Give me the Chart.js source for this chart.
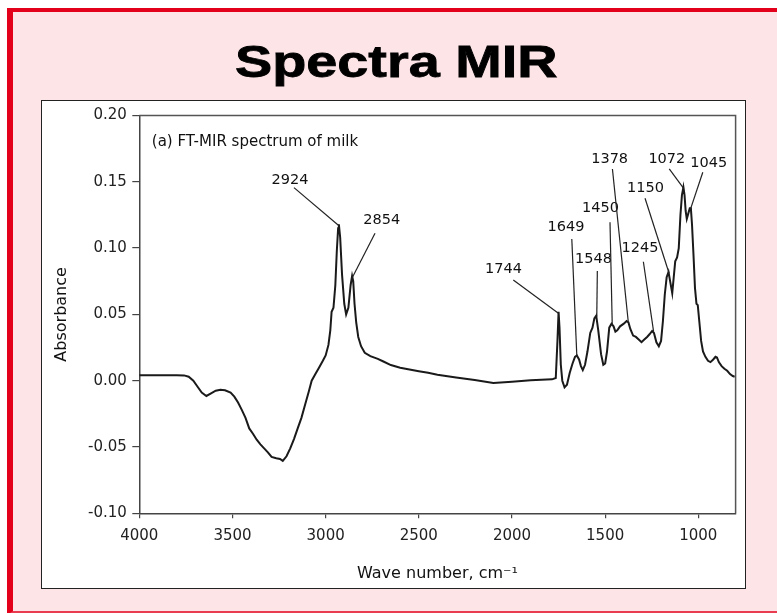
<!DOCTYPE html>
<html>
<head>
<meta charset="utf-8">
<script src="https://cdn.jsdelivr.net/npm/chart.js@4"></script>
<style>
    body { margin: 0; background: #fff; width: 777px; height: 613px; overflow: hidden; position: relative; }
    #frame {
        position: absolute; left: 7px; top: 8px; width: 800px; height: 607px; box-sizing: border-box;
        background: #fce4e7; border-left: 6px solid #e2001a; border-top: 4px solid #e2001a; border-bottom: 4px solid #ea3c50;
    }
    #title {
        position: absolute; left: 235px; top: 39px; white-space: nowrap;
        font: bold 45px "Liberation Sans", Arial, sans-serif; line-height: 45px; color: #000;
        transform: scaleX(1.24); transform-origin: 0 0; -webkit-text-stroke: 0.8px #000;
    }
    #box {
        position: absolute; left: 41px; top: 100px; width: 705px; height: 489px; box-sizing: border-box;
        border: 1px solid #222; background: #fff;
    }
    canvas { display: block; }
</style>
</head>
<body>
<div id="frame"></div>
<div id="title">Spectra MIR</div>
<div id="box"><canvas id="myChart" width="703" height="487"></canvas></div>
<script>
/* global Chart */

// spectrum, wave number (cm-1) -> absorbance
const wavenumbers = [
    4000, 3900, 3800, 3760, 3735, 3710, 3690, 3665, 3640, 3615,
    3590, 3565, 3540, 3510, 3490, 3470, 3450, 3430, 3410, 3390,
    3370, 3350, 3330, 3310, 3290, 3265, 3245, 3230, 3210, 3190,
    3170, 3150, 3130, 3110, 3090, 3075, 3055, 3035, 3015, 3000,
    2985, 2975, 2968, 2958, 2948, 2940, 2933, 2929, 2922, 2912,
    2900, 2890, 2878, 2866, 2858, 2852, 2845, 2836, 2825, 2810,
    2790, 2760, 2720, 2690, 2650, 2600, 2550, 2500, 2450, 2400,
    2300, 2200, 2100, 2000, 1900, 1785, 1765, 1756, 1750, 1745,
    1738, 1730, 1718, 1705, 1690, 1675, 1662, 1652, 1640, 1630,
    1620, 1608, 1595, 1580, 1568, 1558, 1548, 1537, 1522, 1510,
    1500, 1490, 1478, 1466, 1455, 1445, 1435, 1420, 1400, 1385,
    1375, 1365, 1350, 1335, 1320, 1305, 1290, 1275, 1262, 1248,
    1238, 1225, 1212, 1200, 1190, 1180, 1170, 1160, 1150, 1140,
    1132, 1124, 1114, 1105, 1096, 1088, 1080, 1074, 1068, 1062,
    1054, 1046, 1040, 1034, 1026, 1018, 1010, 1003, 995, 985,
    975, 962, 948, 935, 920, 908, 900, 890, 875, 860,
    845, 830, 815, 805,
];
const absorbance = [
    0.0042, 0.0042, 0.0042, 0.004, 0.003, 0.0, -0.004, -0.009, -0.0115, -0.0095,
    -0.0075, -0.0068, -0.0072, -0.009, -0.012, -0.0165, -0.022, -0.028, -0.036, -0.04,
    -0.0445, -0.048, -0.051, -0.054, -0.0575, -0.0585, -0.059, -0.0605, -0.057, -0.051,
    -0.044, -0.036, -0.028, -0.018, -0.008, 0.0, 0.005, 0.01, 0.015, 0.019,
    0.027, 0.038, 0.052, 0.055, 0.072, 0.098, 0.115, 0.118, 0.108, 0.08,
    0.058, 0.05, 0.055, 0.072, 0.079, 0.075, 0.058, 0.044, 0.033, 0.026,
    0.021, 0.0185, 0.0165, 0.0145, 0.0118, 0.0098, 0.0085, 0.0072, 0.006, 0.0045,
    0.0024, 0.0005, -0.0017, -0.0008, 0.0003, 0.001, 0.002, 0.03, 0.052, 0.04,
    0.012, 0.0, -0.005, -0.003, 0.006, 0.013, 0.018, 0.019, 0.016, 0.011,
    0.008, 0.012, 0.022, 0.036, 0.04, 0.047, 0.049, 0.038, 0.02, 0.012,
    0.013, 0.022, 0.04, 0.043, 0.041, 0.037, 0.038, 0.041, 0.043, 0.045,
    0.044, 0.039, 0.034, 0.033, 0.031, 0.029, 0.031, 0.033, 0.035, 0.0375,
    0.036, 0.029, 0.026, 0.03, 0.045, 0.065, 0.078, 0.082, 0.074, 0.066,
    0.078, 0.09, 0.093, 0.1, 0.125, 0.14, 0.146, 0.14, 0.128, 0.122,
    0.126, 0.13, 0.13, 0.118, 0.095, 0.07, 0.058, 0.057, 0.045, 0.03,
    0.022, 0.018, 0.015, 0.014, 0.016, 0.018, 0.0175, 0.014, 0.011, 0.009,
    0.0075, 0.005, 0.0035, 0.003,
];
const xTicks = [4000, 3500, 3000, 2500, 2000, 1500, 1000];

// peak labels, in data units: where the text sits, where its leader starts and where it hits the curve
const caption = '(a) FT-MIR spectrum of milk';
const captionAt = [3933, 0.180];
const peakNames = ['2924', '2854', '1744', '1649', '1548', '1450', '1378', '1245', '1150', '1072', '1045'];
const peakLabelAt = [[3191, 0.151], [2699, 0.1212], [2046, 0.0842], [1710, 0.1155], [1563, 0.0918], [1525, 0.1302],
    [1476, 0.1668], [1313, 0.1001], [1284, 0.1453], [1169, 0.1672], [944, 0.1643]];
const peakLineFrom = [[3170, 0.1456], [2735, 0.1112], [1993, 0.0759], [1679, 0.1069], [1542, 0.0827], [1474, 0.1195],
    [1461, 0.1597], [1295, 0.0897], [1286, 0.1376], [1156, 0.1597], [976, 0.1572]];
const peakTips = [[2930, 0.117], [2856, 0.078], [1751, 0.0508], [1652, 0.0185], [1545, 0.0485], [1462, 0.042],
    [1376, 0.0445], [1240, 0.037], [1157, 0.081], [1079, 0.145], [1043, 0.129]];

Chart.defaults.font.family = '"DejaVu Sans", sans-serif';
Chart.defaults.color = '#222';

const decorations = {
    id: 'decorations',
    afterDatasetsDraw(chart) {
        const {ctx, chartArea: a} = chart;
        const x = chart.scales.x, y = chart.scales.y;
        ctx.save();
        // top and right side of the plot frame
        ctx.strokeStyle = '#555';
        ctx.lineWidth = 1.5;
        ctx.beginPath();
        ctx.moveTo(a.left, a.top);
        ctx.lineTo(a.right, a.top);
        ctx.lineTo(a.right, a.bottom);
        ctx.stroke();

        ctx.fillStyle = '#111';
        ctx.font = '15px "DejaVu Sans"';
        ctx.textBaseline = 'middle';
        ctx.textAlign = 'left';
        ctx.fillText(caption, x.getPixelForValue(captionAt[0]), y.getPixelForValue(captionAt[1]));

        ctx.font = '14.5px "DejaVu Sans"';
        ctx.textAlign = 'center';
        ctx.strokeStyle = '#222';
        ctx.lineWidth = 1.2;
        peakNames.forEach((name, i) => {
            ctx.fillText(name, x.getPixelForValue(peakLabelAt[i][0]), y.getPixelForValue(peakLabelAt[i][1]));
            ctx.beginPath();
            ctx.moveTo(x.getPixelForValue(peakLineFrom[i][0]), y.getPixelForValue(peakLineFrom[i][1]));
            ctx.lineTo(x.getPixelForValue(peakTips[i][0]), y.getPixelForValue(peakTips[i][1]));
            ctx.stroke();
        });
        ctx.restore();
    }
};

const myChart = new Chart(document.getElementById('myChart'), {
    type: 'line',
    data: {
        datasets: [{
            data: wavenumbers.map((w, i) => ({x: w, y: absorbance[i]})),
            borderColor: '#1a1a1a',
            borderWidth: 2,
            pointRadius: 0,
            tension: 0,
            fill: false,
        }]
    },
    options: {
        responsive: false,
        animation: false,
        devicePixelRatio: 1,
        layout: {padding: {top: 14.5, right: 9.4, left: 0, bottom: 0}},
        plugins: {legend: {display: false}, tooltip: {enabled: false}},
        scales: {
            x: {
                type: 'linear',
                reverse: true,
                min: 800,
                max: 4000,
                afterBuildTicks: (scale) => { scale.ticks = xTicks.map(v => ({value: v})); },
                afterFit: (scale) => { scale.height = 74.7; },
                grid: {drawOnChartArea: false, drawTicks: true, tickLength: 5, color: '#444', lineWidth: 1.2},
                border: {display: true, color: '#444', width: 1.5},
                ticks: {font: {size: 15}, padding: 9, maxRotation: 0, callback: v => String(v)},
                title: {display: true, text: 'Wave number, cm\u207B\u00B9', font: {size: 16}, color: '#111', padding: {top: 0, bottom: 5}},
            },
            y: {
                min: -0.1,
                max: 0.2,
                afterFit: (scale) => { scale.width = 97.3; },
                grid: {drawOnChartArea: false, drawTicks: true, tickLength: 7, color: '#444', lineWidth: 1.2},
                border: {display: true, color: '#444', width: 1.5},
                ticks: {stepSize: 0.05, font: {size: 15}, padding: 5.5, callback: v => v.toFixed(2)},
                title: {display: true, text: 'Absorbance', font: {size: 16}, color: '#111', padding: {top: 10, bottom: 0}},
            },
        },
    },
    plugins: [decorations],
});
</script>
</body>
</html>
